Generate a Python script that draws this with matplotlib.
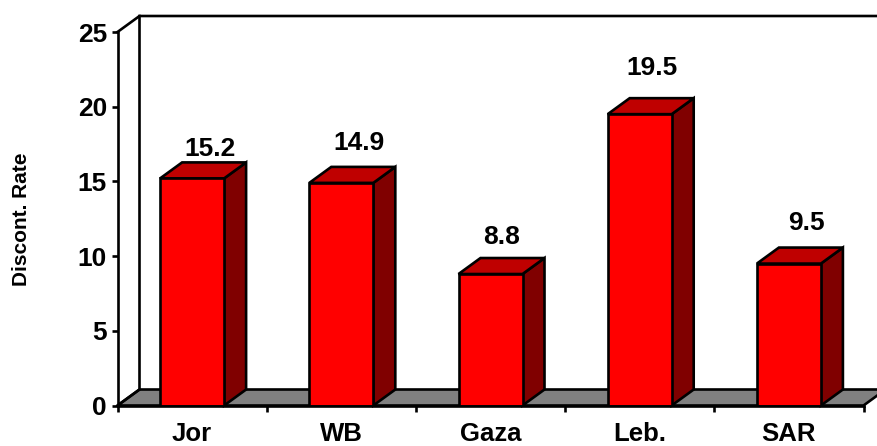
import matplotlib
matplotlib.use('Agg')
import matplotlib.pyplot as plt
from matplotlib.patches import Polygon

plt.rcParams['font.family'] = ['Liberation Sans', 'DejaVu Sans']

categories = ['Jor', 'WB', 'Gaza', 'Leb.', 'SAR']
values = [15.2, 14.9, 8.8, 19.5, 9.5]
value_labels = ['15.2', '14.9', '8.8', '19.5', '9.5']
yticks = [0, 5, 10, 15, 20, 25]

# label offsets from the bar top centre, in pixels, they are uneven in the original
label_gaps = [1, 12, 9, 18, 13]
label_shifts = [17.5, 17.5, 11, 12, 17.5]

W, H = 877, 446
LEFT, BASE, TOP25 = 117.5, 405.5, 32
PX_X = 149.2
PX_Y = (BASE - TOP25) / 25
DX = 22 / PX_X
DY = 16 / PX_Y
LW = 1.9
BAR_W = 64 / PX_X

fig = plt.figure(figsize=(W / 100, H / 100), dpi=100)
ax = fig.add_axes([LEFT / W, (H - BASE) / H, (W - LEFT) / W, BASE / H])
ax.set_xlim(-0.5, -0.5 + (W - LEFT) / PX_X)
ax.set_ylim(0, BASE / PX_Y)
ax.patch.set_visible(False)

for s in ['top', 'right']:
    ax.spines[s].set_visible(False)
ax.spines['left'].set_bounds(0, 25)
ax.spines['left'].set_linewidth(LW)
ax.spines['bottom'].set_linewidth(LW)
ax.spines['bottom'].set_bounds(-0.5, 4.5)
ax.spines['left'].set_zorder(6)
ax.spines['bottom'].set_zorder(6)

x0 = -0.5
x1 = len(categories) - 0.5

# floor and back wall
ax.add_patch(Polygon([(x0, 0), (x0 + DX, DY), (x1 + DX, DY), (x1, 0)],
                     closed=True, facecolor='#808080', edgecolor='black',
                     linewidth=LW, clip_on=False, zorder=1))
ax.plot([x0, x0 + DX, x0 + DX], [0, DY, 25 + DY], color='black', lw=LW,
        clip_on=False, zorder=2, solid_joinstyle='miter')
ax.plot([x0, x0 + DX, x1 + DX], [25, 25 + DY, 25 + DY], color='black', lw=LW,
        clip_on=False, zorder=2, solid_joinstyle='miter')

for i, v in enumerate(values):
    l = i - BAR_W / 2
    r = i + BAR_W / 2
    ax.add_patch(Polygon([(r, 0), (r + DX, DY), (r + DX, v + DY), (r, v)],
                         closed=True, facecolor='#800000', edgecolor='black',
                         linewidth=LW, zorder=3, clip_on=False))
    ax.add_patch(Polygon([(l, v), (l + DX, v + DY), (r + DX, v + DY), (r, v)],
                         closed=True, facecolor='#bf0000', edgecolor='black',
                         linewidth=LW, zorder=3, clip_on=False))
    ax.bar(i, v, width=BAR_W, color='#ff0000', edgecolor='black', linewidth=LW, zorder=4)
    ax.annotate(value_labels[i], xy=(i, v + DY),
                xytext=(label_shifts[i] * 0.72, label_gaps[i] * 0.72),
                textcoords='offset points', ha='center', va='bottom',
                fontsize=19, fontweight='bold', zorder=7)

ax.set_yticks(yticks)
ax.tick_params(axis='y', length=4.5, width=LW, labelsize=19, pad=3)
for t in ax.get_yticklabels():
    t.set_fontweight('bold')

# ticks sit between the bars, names go under the bars
ax.set_xticks([i - 0.5 for i in range(len(categories) + 1)])
ax.set_xticklabels([])
ax.set_xticks(range(len(categories)), minor=True)
ax.set_xticklabels(categories, minor=True, fontsize=18.5, fontweight='bold')
ax.tick_params(axis='x', which='major', length=4, width=LW)
ax.tick_params(axis='x', which='minor', length=0, pad=12)

fig.text(22 / W, 1 - 219 / H, 'Discont. Rate', rotation=90, ha='center', va='center',
         fontsize=15, fontweight='bold')

fig.savefig('out.png', dpi=100)
